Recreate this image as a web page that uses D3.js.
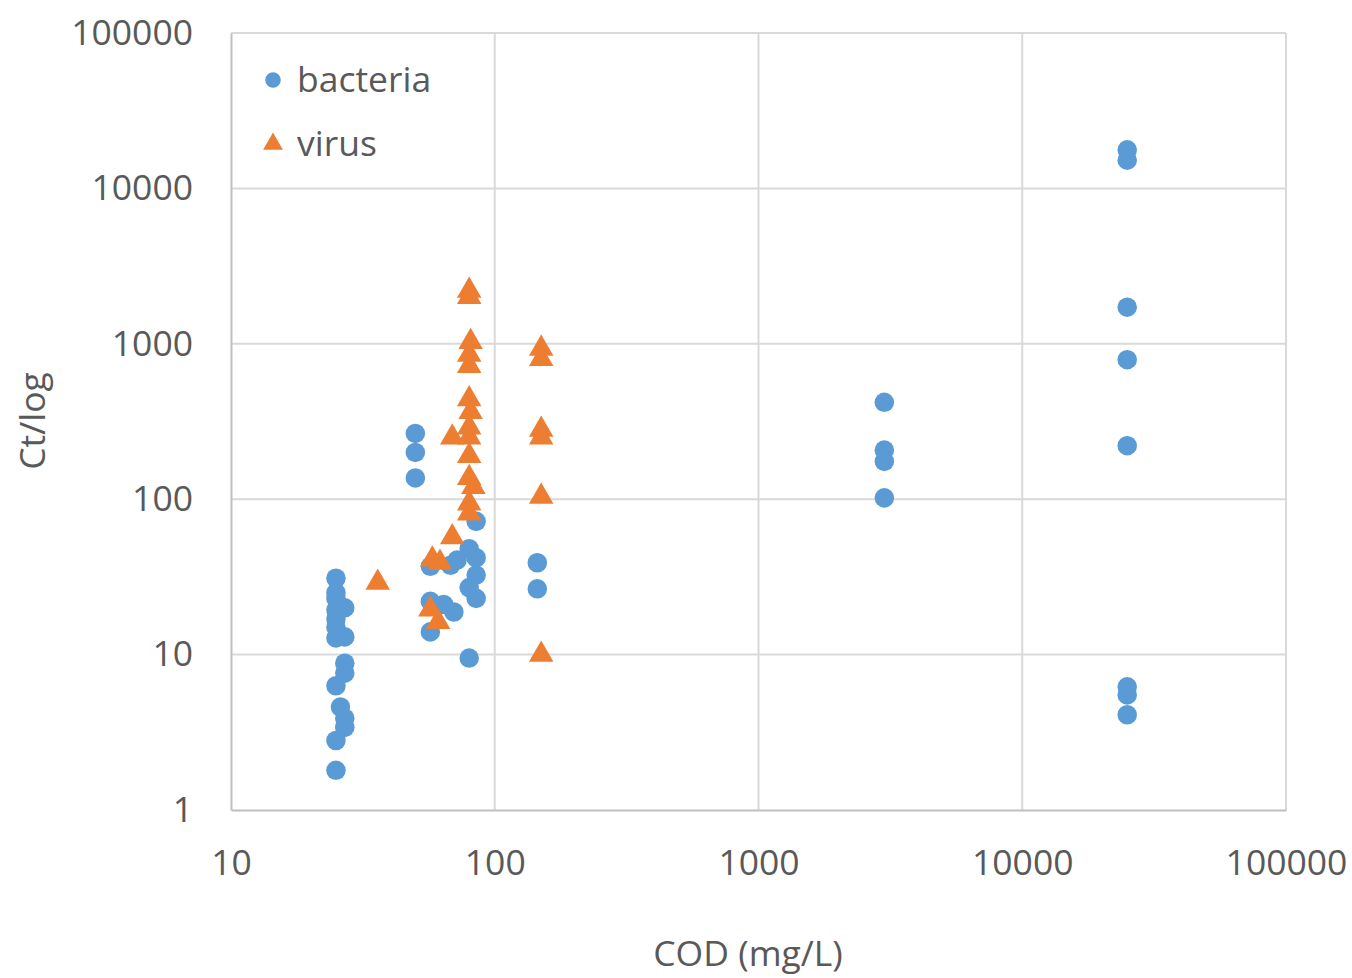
<!DOCTYPE html>
<html>
<head>
<meta charset="utf-8">
<script src="https://cdn.jsdelivr.net/npm/d3@7"></script>
<style>
  html, body { margin: 0; padding: 0; background: #fff; }
  svg { display: block; font-family: "Open Sans", sans-serif; }
</style>
</head>
<body>
<svg id="chart" width="1352" height="978"></svg>
<script>
// COD (mg/L) vs Ct/log for bacteria and virus samples
const bacteriaCOD = [25, 25, 25, 25, 27, 25, 25, 25, 27, 27, 27, 25, 26, 27, 27, 25, 25,
  50, 50, 50,
  85, 80, 85, 72, 68, 57, 85, 80, 85, 57, 64, 70, 57, 80,
  145, 145,
  3000, 3000, 3000, 3000,
  25000, 25000, 25000, 25000, 25000, 25000, 25000, 25000];
const bacteriaCt = [31, 25, 23, 19.4, 20, 17, 15, 12.8, 13, 8.8, 7.6, 6.3, 4.6, 3.9, 3.4, 2.8, 1.8,
  265, 200, 137,
  72, 48, 42, 40.6, 37.6, 37, 32.5, 27, 23, 22, 21, 18.8, 14, 9.5,
  39, 26.5,
  420, 207, 175, 102,
  17700, 15200, 1720, 790, 221, 6.2, 5.5, 4.1];

const virusCOD = [36,
  80, 80, 81, 80, 80, 80, 81, 80, 69, 80, 80, 80, 83, 80, 80, 69, 58, 62, 57, 61,
  150, 150, 150, 150, 150, 150];
const virusCt = [29,
  2200, 2000, 1030, 850, 720, 440, 365, 290, 250, 250, 190, 137, 120, 94, 81, 57, 41, 39, 19.5, 16.2,
  930, 800, 280, 250, 104, 10];

const xTicks = [10, 100, 1000, 10000, 100000];
const yTicks = [1, 10, 100, 1000, 10000, 100000];
const seriesNames = ["bacteria", "virus"];

const blue = "#5b9bd5", orange = "#ed7d31", textCol = "#595959";
const fontSize = "35.5px";
const svg = d3.select("#chart");

const x = d3.scaleLog().domain([10, 100000]).range([231, 1286]);
const y = d3.scaleLog().domain([1, 100000]).range([810, 33]);

// grid lines
const grid = svg.append("g");
grid.selectAll("line.v").data(xTicks.slice(1)).join("line")
  .attr("x1", d => x(d)).attr("x2", d => x(d))
  .attr("y1", y(1)).attr("y2", y(100000))
  .attr("stroke", "#d9d9d9").attr("stroke-width", 2);
grid.selectAll("line.h").data(yTicks.slice(1)).join("line")
  .attr("x1", x(10)).attr("x2", x(100000))
  .attr("y1", d => y(d)).attr("y2", d => y(d))
  .attr("stroke", "#d9d9d9").attr("stroke-width", 2);

// axes
const xAxis = svg.append("g").attr("transform", `translate(0,${y(1)})`)
  .call(d3.axisBottom(x).tickValues(xTicks).tickFormat(d3.format("d")).tickSize(0).tickPadding(40));
const yAxis = svg.append("g").attr("transform", `translate(${x(10)},0)`)
  .call(d3.axisLeft(y).tickValues(yTicks).tickFormat(d3.format("d")).tickSize(0).tickPadding(38));
[xAxis, yAxis].forEach(a => {
  a.select(".domain").attr("stroke", "#bfbfbf").attr("stroke-width", 2);
  a.selectAll("text").attr("fill", textCol).style("font-size", fontSize)
    .style("font-family", "'Open Sans', sans-serif");
});

// points
const circleSym = d3.symbol().type(d3.symbolCircle).size(300);
const triSym = d3.symbol().type(d3.symbolTriangle).size(260);

const bacteria = bacteriaCOD.map((c, i) => ({ cod: c, ct: bacteriaCt[i] }));
const virus = virusCOD.map((c, i) => ({ cod: c, ct: virusCt[i] }));

svg.append("g").selectAll("path").data(bacteria).join("path")
  .attr("d", circleSym)
  .attr("transform", d => `translate(${x(d.cod)},${y(d.ct)})`)
  .attr("fill", blue);

svg.append("g").selectAll("path").data(virus).join("path")
  .attr("d", triSym)
  .attr("transform", d => `translate(${x(d.cod)},${y(d.ct)})`)
  .attr("fill", orange);

// legend
const legend = svg.append("g");
const legendRows = [
  { name: seriesNames[0], sym: d3.symbol().type(d3.symbolCircle).size(190), color: blue, yy: 80 },
  { name: seriesNames[1], sym: d3.symbol().type(d3.symbolTriangle).size(170), color: orange, yy: 144 }
];
legendRows.forEach(r => {
  legend.append("path").attr("d", r.sym()).attr("fill", r.color)
    .attr("transform", `translate(273,${r.yy})`);
  legend.append("text").attr("x", 297).attr("y", r.yy).attr("dy", "0.35em")
    .attr("fill", textCol).style("font-size", fontSize).text(r.name);
});

// axis titles
svg.append("text").attr("x", 748).attr("y", 954).attr("dy", "0.35em")
  .attr("text-anchor", "middle").attr("fill", textCol).style("font-size", fontSize)
  .text("COD (mg/L)");
svg.append("text").attr("transform", "translate(33,421) rotate(-90)").attr("dy", "0.35em")
  .attr("text-anchor", "middle").attr("fill", textCol).style("font-size", fontSize)
  .text("Ct/log");
</script>
</body>
</html>
